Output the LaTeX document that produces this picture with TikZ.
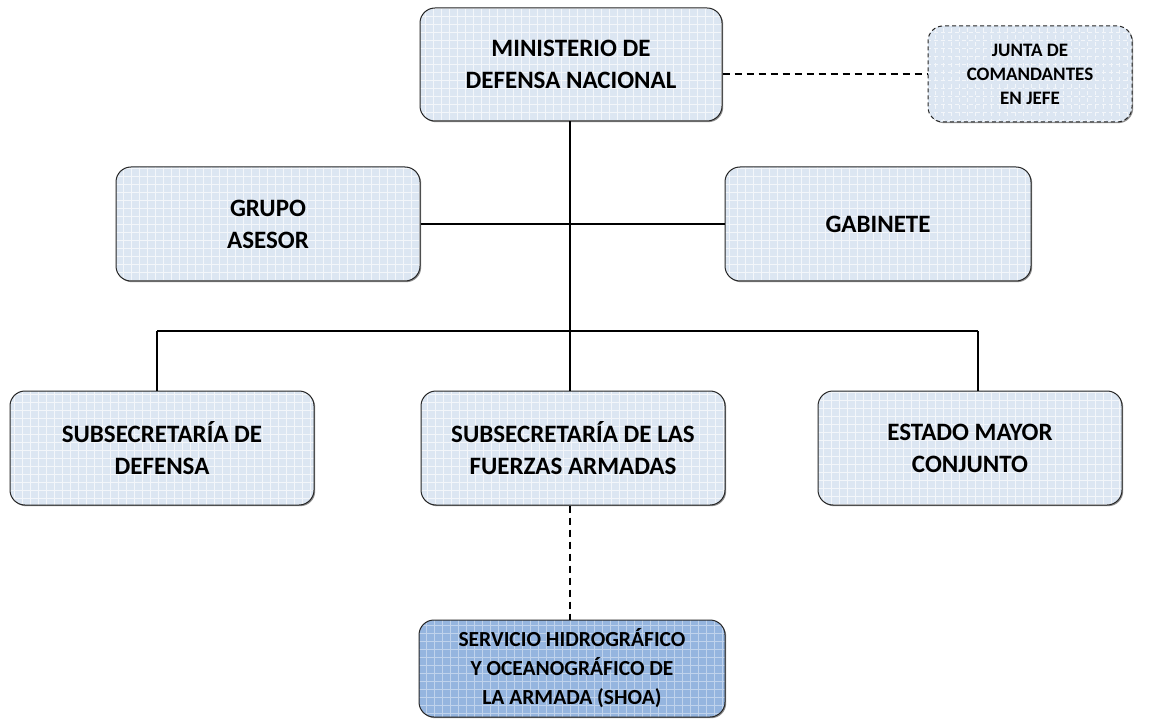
\documentclass[tikz,border=0pt]{standalone}
\usepackage{fontspec}
\usetikzlibrary{shadows}
\setmainfont{Carlito}
\begin{document}
\begin{tikzpicture}[x=1pt,y=-1pt,
  gridfill/.style={path picture={\draw[gridcol, line width=0.35pt]
     ([shift={(-1pt,-1pt)}]path picture bounding box.south west) grid[step=8pt] ([shift={(1pt,1pt)}]path picture bounding box.north east);}},
  box/.style={draw=black!85, line width=1pt, rounded corners=15pt, fill=lightbox, gridfill,
     drop shadow={shadow xshift=1.2pt, shadow yshift=-1.2pt, fill=black!55, opacity=0.8},
     align=center, font=\fontsize{25}{32}\selectfont\bfseries, inner sep=0pt},
  conn/.style={line width=2.7pt, black},
  dconn/.style={line width=2pt, black, dash pattern=on 7pt off 5pt}]
\definecolor{lightbox}{HTML}{DCE6F2}
\definecolor{darkbox}{HTML}{95B5DF}
\colorlet{gridcol}{white!65!lightbox}
\useasboundingbox (0,0) rectangle (1164,719);
\fill[white] (0,0) rectangle (1164,719);
% nodes
\node[box, minimum width=302pt, minimum height=113pt] (min) at (571,64.5) {MINISTERIO DE\\DEFENSA NACIONAL};
\node[box, dash pattern=on 4pt off 3pt, line width=1pt, minimum width=204pt, minimum height=96pt, font=\fontsize{19}{24}\selectfont\bfseries] (jun) at (1030,74) {JUNTA DE\\COMANDANTES\\EN JEFE};
\node[box, minimum width=304pt, minimum height=114pt] (gru) at (268,224) {GRUPO\\ASESOR};
\node[box, minimum width=306pt, minimum height=114pt] (gab) at (878,224) {GABINETE};
\node[box, minimum width=304pt, minimum height=114pt] (sde) at (162,448) {SUBSECRETARÍA DE\\DEFENSA};
\node[box, minimum width=304pt, minimum height=114pt] (sff) at (573,448) {SUBSECRETARÍA DE LAS\\FUERZAS ARMADAS};
\begin{scope}
\colorlet{gridcol}{white!40!darkbox}
\node[box, fill=darkbox, minimum width=306pt, minimum height=97pt, font=\fontsize{21.5}{29}\selectfont\bfseries] (sho) at (572,668.5) {SERVICIO HIDROGRÁFICO\\Y OCEANOGRÁFICO DE\\LA ARMADA (SHOA)};
\end{scope}
\node[box, minimum width=304pt, minimum height=114pt] (emc) at (970,448) {ESTADO MAYOR\\CONJUNTO};
% connectors
\coordinate (hub) at (570,331);
\coordinate (lx) at (157,331);
\coordinate (rx) at (978,331);
\draw[conn] (min.south -| hub) -- (hub);
\draw[conn] (gru.east) -- (gab.west);
\draw[conn] (lx) -- (rx);
\draw[conn] (lx) -- (lx |- sde.north);
\draw[conn] (hub) -- (hub |- sff.north);
\draw[conn] (rx) -- (rx |- emc.north);
\draw[dconn] (min.east |- jun.west) -- (jun.west);
\draw[dconn] (sff.south -| hub) -- (sho.north -| hub);
\end{tikzpicture}
\end{document}
